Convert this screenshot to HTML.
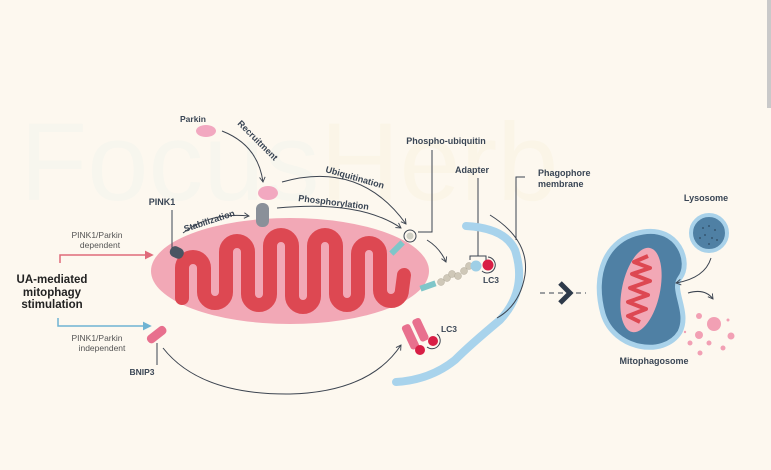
<!DOCTYPE html>
<html><head><meta charset="utf-8"><style>
html,body{margin:0;padding:0;background:#fdf8ef;}
svg{display:block;font-family:"Liberation Sans",sans-serif;}
</style></head><body>
<svg width="771" height="470" viewBox="0 0 771 470" xmlns="http://www.w3.org/2000/svg">
<defs>
<marker id="ah" viewBox="0 0 10 10" refX="8" refY="5" markerWidth="7" markerHeight="7" orient="auto"><path d="M1,1 L8,5 L1,9" fill="none" stroke="#3c4450" stroke-width="1.3"/></marker>
<marker id="ahr" viewBox="0 0 10 10" refX="8" refY="5" markerWidth="6" markerHeight="6" orient="auto"><path d="M0,0 L10,5 L0,10Z" fill="#e06a7a"/></marker>
<marker id="ahb" viewBox="0 0 10 10" refX="8" refY="5" markerWidth="6" markerHeight="6" orient="auto"><path d="M0,0 L10,5 L0,10Z" fill="#6fb3d3"/></marker>
</defs>
<rect width="771" height="470" fill="#fdf8ef"/>
<rect x="767" y="0" width="4" height="108" fill="#c9c9c9"/>
<text x="20" y="200" font-size="110" fill="#f1f4ee" opacity="0.45">Focus</text>
<text x="320" y="200" font-size="110" fill="#f9f2de" opacity="0.45">Herb</text>

<!-- left labels -->
<text x="52" y="283" font-size="11.5" font-weight="bold" fill="#222" text-anchor="middle">UA-mediated</text>
<text x="52" y="296" font-size="11.5" font-weight="bold" fill="#222" text-anchor="middle">mitophagy</text>
<text x="52" y="308" font-size="11.5" font-weight="bold" fill="#222" text-anchor="middle">stimulation</text>
<text x="97" y="238" font-size="8.5" fill="#555" text-anchor="middle">PINK1/Parkin</text>
<text x="100" y="248" font-size="8.5" fill="#555" text-anchor="middle">dependent</text>
<text x="97" y="341" font-size="8.5" fill="#555" text-anchor="middle">PINK1/Parkin</text>
<text x="102" y="351" font-size="8.5" fill="#555" text-anchor="middle">independent</text>
<path d="M60,263 L60,255 L152,255" fill="none" stroke="#e06a7a" stroke-width="1.5" marker-end="url(#ahr)"/>
<path d="M58,318 L58,326 L150,326" fill="none" stroke="#6fb3d3" stroke-width="1.5" marker-end="url(#ahb)"/>

<!-- mitochondrion -->
<ellipse cx="290" cy="271" rx="139" ry="53" fill="#f2a8b6"/>
<path d="M182,298 L182,268 A11,11 0 0 1 204,268 L204,292 A11,11 0 0 0 226,292 L226,252 A11,11 0 0 1 248,252 L248,294 A11,11 0 0 0 270,294 L270,246 A11,11 0 0 1 292,246 L292,296 A11,11 0 0 0 314,296 L314,246 A11,11 0 0 1 336,246 L336,294 A11,11 0 0 0 358,294 L358,254 A11,11 0 0 1 380,254 L380,290 A11,11 0 0 0 402,290 L404,275" fill="none" stroke="#dd4852" stroke-width="14" stroke-linecap="round" stroke-linejoin="round"/>

<!-- PINK1 -->
<text x="162" y="205" font-size="9" font-weight="bold" fill="#3a4655" text-anchor="middle">PINK1</text>
<line x1="172" y1="210" x2="172" y2="248" stroke="#3a4655" stroke-width="1"/>
<rect x="170" y="247" width="14" height="11" rx="5" fill="#4a5562" transform="rotate(25 177 252)"/>
<text x="185" y="232" font-size="9" font-weight="bold" fill="#3a4655" transform="rotate(-18 185 232)">Stabilization</text>
<path d="M183,233 Q210,212 249,216" fill="none" stroke="#3c4450" stroke-width="1" marker-end="url(#ah)"/>
<rect x="256" y="203" width="13" height="24" rx="6" fill="#8a9099"/>
<ellipse cx="268" cy="193" rx="10" ry="7" fill="#f2a8c0"/>
<ellipse cx="206" cy="131" rx="10" ry="6" fill="#f2a8c0"/>
<text x="193" y="122" font-size="8.5" font-weight="bold" fill="#3a4655" text-anchor="middle">Parkin</text>
<text x="237" y="124" font-size="9" font-weight="bold" fill="#3a4655" transform="rotate(45 237 124)">Recruitment</text>
<path d="M222,131 Q258,145 263,182" fill="none" stroke="#3c4450" stroke-width="1" marker-end="url(#ah)"/>
<text x="325" y="172" font-size="9" font-weight="bold" fill="#3a4655" transform="rotate(16 325 172)">Ubiquitination</text>
<path d="M282,182 Q360,160 406,224" fill="none" stroke="#3c4450" stroke-width="1" marker-end="url(#ah)"/>
<text x="298" y="201" font-size="9" font-weight="bold" fill="#3a4655" transform="rotate(7 298 201)">Phosphorylation</text>
<path d="M277,208 Q360,200 401,228" fill="none" stroke="#3c4450" stroke-width="1" marker-end="url(#ah)"/>

<!-- phospho-ubiquitin -->
<rect x="394" y="240" width="6" height="16" fill="#7fc6c9" transform="rotate(45 397 248)"/>
<circle cx="410" cy="236" r="6" fill="none" stroke="#3c4450" stroke-width="1"/>
<circle cx="410" cy="236" r="3.5" fill="#cfcfc4"/>
<path d="M418,232 L432,232 L432,150" fill="none" stroke="#3c4450" stroke-width="1"/>
<text x="446" y="144" font-size="9" font-weight="bold" fill="#3a4655" text-anchor="middle">Phospho-ubiquitin</text>
<path d="M427,240 Q440,248 446,262" fill="none" stroke="#3c4450" stroke-width="1" marker-end="url(#ah)"/>
<rect x="420" y="283" width="16" height="6" fill="#7fc6c9" transform="rotate(-20 428 286)"/>
<g fill="#cfc8b8" stroke="#b3ac9c" stroke-width="0.5">
<circle cx="441" cy="282" r="3.5"/><circle cx="447" cy="278" r="3.5"/><circle cx="452" cy="274" r="3.5"/><circle cx="458" cy="276" r="3.5"/><circle cx="464" cy="271" r="3.5"/><circle cx="469" cy="266" r="3.5"/></g>
<circle cx="476" cy="266" r="5.5" fill="#9fcfe6"/>
<circle cx="488" cy="265" r="5.5" fill="#d81e45"/>
<path d="M488,257 A8,8 0 1 1 482,271" fill="none" stroke="#3c4450" stroke-width="1"/>
<text x="491" y="283" font-size="8.5" font-weight="bold" fill="#3a4655" text-anchor="middle">LC3</text>
<text x="472" y="173" font-size="9" font-weight="bold" fill="#3a4655" text-anchor="middle">Adapter</text>
<path d="M478,178 L478,256 M470,260 L470,256 L486,256 L486,260" fill="none" stroke="#3c4450" stroke-width="1"/>

<!-- phagophore -->
<path d="M466,226 Q505,228 515,250 Q528,290 500,320 Q470,345 455,360 Q430,380 396,382" fill="none" stroke="#a8d3ec" stroke-width="8" stroke-linecap="round"/>
<path d="M490,215 Q530,240 525,275 Q520,305 497,318" fill="none" stroke="#3c4450" stroke-width="1"/>
<path d="M516,240 L516,177 L525,177" fill="none" stroke="#3c4450" stroke-width="1"/>
<text x="538" y="176" font-size="9" font-weight="bold" fill="#3a4655">Phagophore</text>
<text x="538" y="187" font-size="9" font-weight="bold" fill="#3a4655">membrane</text>

<!-- BNIP3 -->
<rect x="146" y="330" width="22" height="9" rx="4" fill="#e8708e" transform="rotate(-38 157 335)"/>
<line x1="157" y1="343" x2="157" y2="365" stroke="#3c4450" stroke-width="1"/>
<text x="142" y="375" font-size="8.5" font-weight="bold" fill="#3a4655" text-anchor="middle">BNIP3</text>
<path d="M163,348 Q200,395 290,394 Q370,392 401,345" fill="none" stroke="#3c4450" stroke-width="1" marker-end="url(#ah)"/>
<rect x="406" y="324" width="9" height="26" rx="3" fill="#e8708e" transform="rotate(-25 410 337)"/>
<rect x="416" y="318" width="9" height="24" rx="3" fill="#e8708e" transform="rotate(-25 420 330)"/>
<circle cx="420" cy="350" r="5" fill="#d81e45"/>
<circle cx="433" cy="341" r="5" fill="#d81e45"/>
<path d="M437,334 A8,8 0 1 1 427,347" fill="none" stroke="#3c4450" stroke-width="1"/>
<text x="449" y="332" font-size="8.5" font-weight="bold" fill="#3a4655" text-anchor="middle">LC3</text>

<!-- transition -->
<line x1="540" y1="293" x2="586" y2="293" stroke="#3c4450" stroke-width="1" stroke-dasharray="5,4"/>
<path d="M560,283 L570,293 L560,303" fill="none" stroke="#2e3a4a" stroke-width="5"/>

<!-- mitophagosome -->
<path d="M643,232 C678,226 692,262 680,278 C671,290 690,312 680,332 C664,358 614,350 603,314 C592,275 605,238 643,232Z" fill="#4f80a4" stroke="#a9d2ea" stroke-width="5"/>
<ellipse cx="641" cy="290" rx="19" ry="43" fill="#f2a8b6" transform="rotate(12 641 290)"/>
<path d="M648,256 L634,262 L650,268 L632,274 L650,281 L630,288 L648,295 L628,302 L646,309 L628,316 L640,322" fill="none" stroke="#dd4852" stroke-width="4" stroke-linejoin="round"/>
<text x="654" y="364" font-size="9" font-weight="bold" fill="#3a4655" text-anchor="middle">Mitophagosome</text>
<circle cx="709" cy="233" r="18" fill="#4f80a4" stroke="#a9d2ea" stroke-width="4"/>
<g fill="#2d4a62"><circle cx="703" cy="228" r="0.9"/><circle cx="709" cy="226" r="0.9"/><circle cx="715" cy="230" r="0.9"/><circle cx="705" cy="235" r="0.9"/><circle cx="712" cy="238" r="0.9"/><circle cx="700" cy="238" r="0.9"/><circle cx="717" cy="240" r="0.9"/><circle cx="709" cy="244" r="0.9"/></g>
<text x="706" y="201" font-size="9" font-weight="bold" fill="#3a4655" text-anchor="middle">Lysosome</text>
<path d="M711,258 Q705,278 676,283" fill="none" stroke="#3c4450" stroke-width="1" marker-end="url(#ah)"/>
<path d="M688,293 Q705,288 713,299" fill="none" stroke="#3c4450" stroke-width="1" marker-end="url(#ah)"/>
<g fill="#f2a0b4">
<circle cx="714" cy="324" r="7"/><circle cx="699" cy="316" r="3"/><circle cx="699" cy="335" r="4"/><circle cx="731" cy="336" r="3.5"/><circle cx="690" cy="343" r="2.5"/><circle cx="709" cy="343" r="2.5"/><circle cx="723" cy="348" r="2.5"/><circle cx="700" cy="353" r="2.5"/><circle cx="728" cy="320" r="1.5"/><circle cx="685" cy="332" r="1.2"/></g>
</svg>
</body></html>
